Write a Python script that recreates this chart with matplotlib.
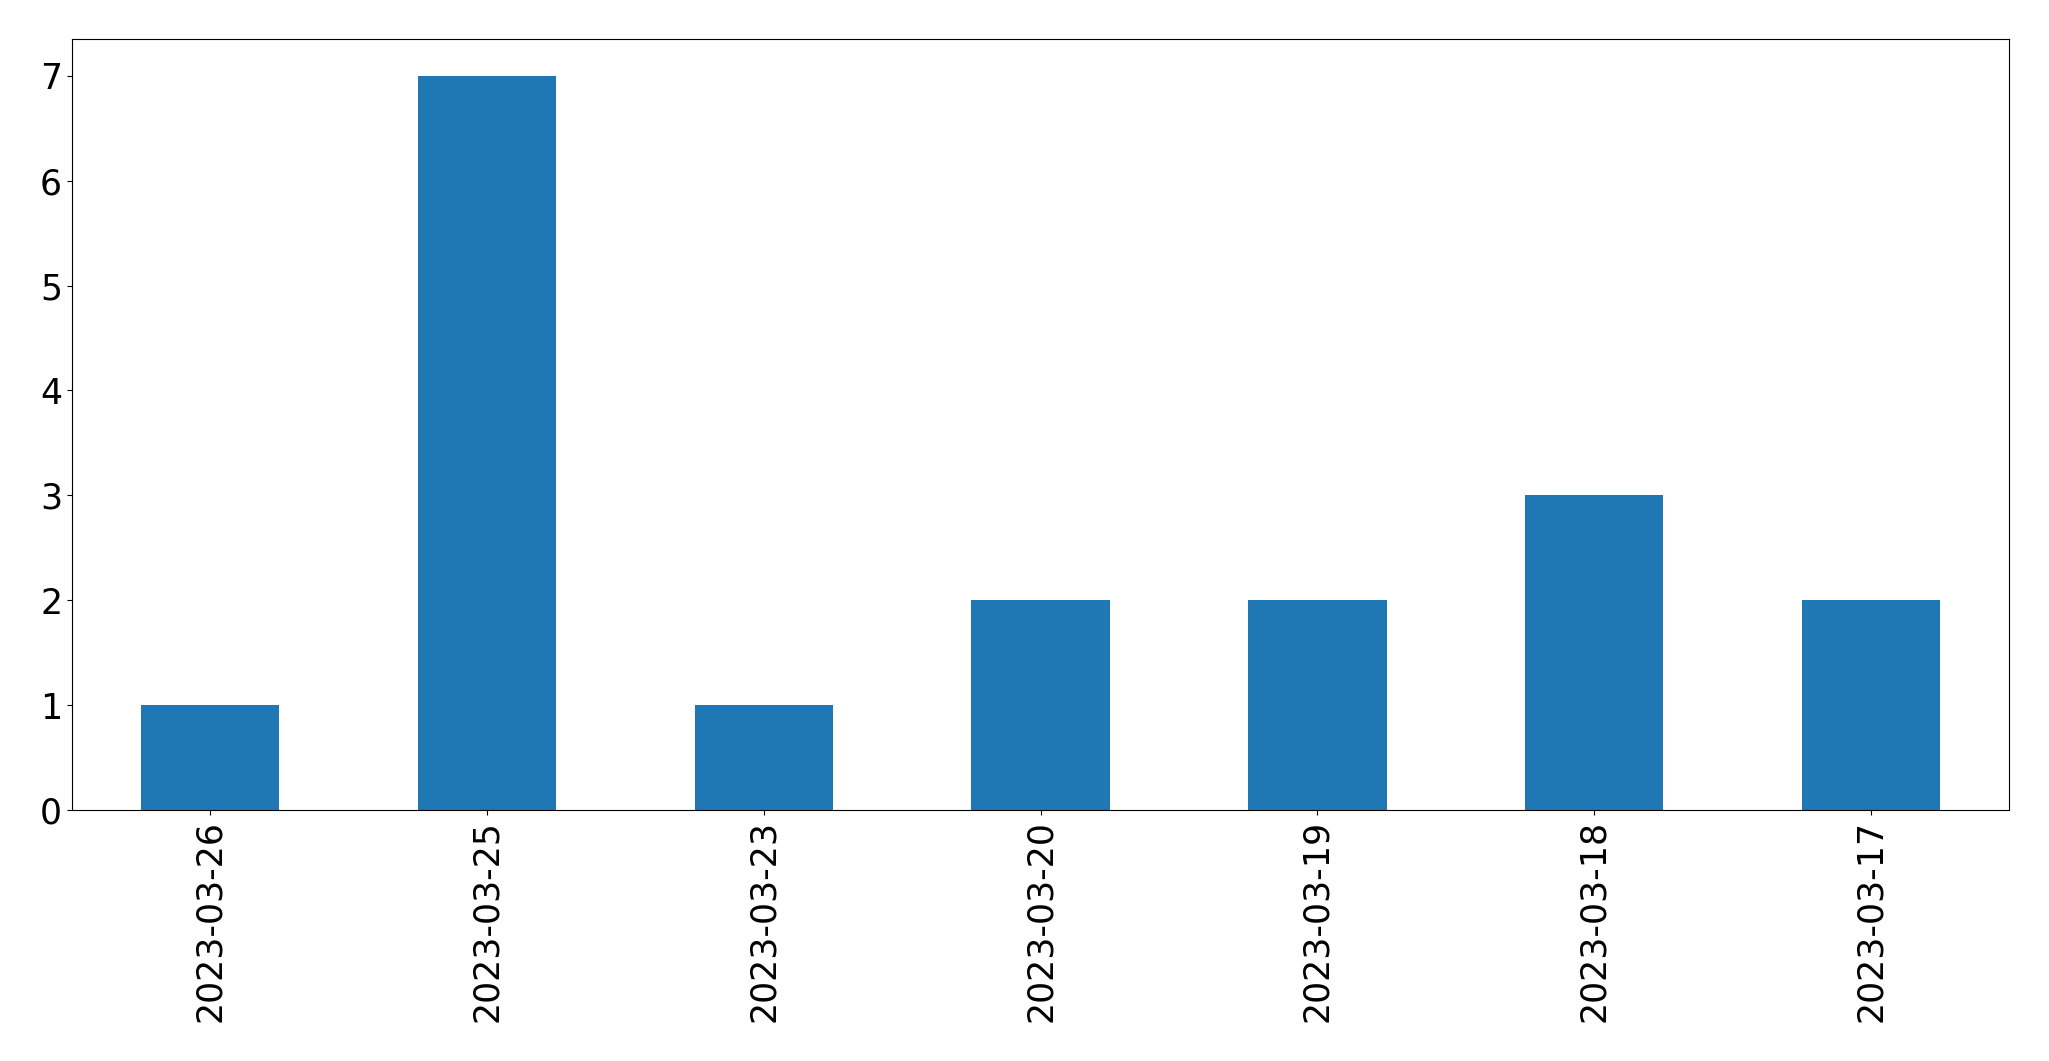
import pandas as pd
from matplotlib import pyplot as plt

dates = ["2023-03-26", "2023-03-25", "2023-03-23", "2023-03-20",
         "2023-03-19", "2023-03-18", "2023-03-17"]
counts = [1, 7, 1, 2, 2, 3, 2]


def main():
    s = pd.Series(counts, index=dates)
    fig = plt.figure(figsize=(20.49, 10.61), dpi=100)
    ax = fig.add_axes([0.0351, 0.2366, 0.9455, 0.7266])
    s.plot(kind="bar", ax=ax, color="#1f77b4", fontsize=25)
    ax.tick_params(axis="both", labelsize=25)
    fig.savefig("out.png", dpi=100)


if __name__ == "__main__":
    main()
